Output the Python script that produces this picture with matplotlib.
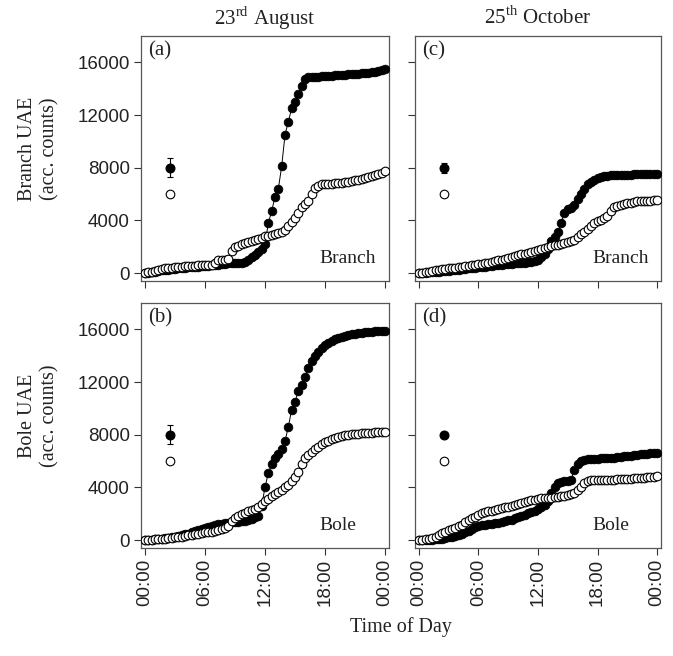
import matplotlib
matplotlib.use("Agg")
import matplotlib.pyplot as plt
import numpy as np

# time grid (hours), 20-minute steps
hours = [i / 3 for i in range(73)]

# (a) Branch, 23rd August
a_filled = [0, 40, 80, 120, 160, 200, 240, 270, 300, 330, 360, 390,
            420, 440, 460, 480, 500, 520, 540, 560, 580, 600, 640, 680,
            710, 740, 760, 770, 780, 790, 820, 980, 1200, 1400, 1620, 1850,
            2200, 3800, 4700, 5800, 6400, 8100, 10500, 11500, 12500, 13000, 13600, 14200,
            14750, 14850, 14880, 14900, 14920, 14940, 14960, 14980, 15000, 15010, 15020, 15040,
            15060, 15080, 15100, 15120, 15140, 15160, 15180, 15200, 15240, 15290, 15350, 15420,
            15500]
a_open = [0, 60, 120, 180, 240, 300, 350, 390, 420, 450, 480, 500,
          520, 540, 555, 570, 585, 600, 610, 620, 630, 800, 1000, 1020,
          1030, 1040, 1700, 1950, 2080, 2180, 2280, 2380, 2470, 2550, 2620, 2700,
          2780, 2850, 2920, 2980, 3020, 3100, 3300, 3550, 3850, 4200, 4600, 5000,
          5250, 5500, 6000, 6450, 6650, 6740, 6760, 6780, 6800, 6820, 6840, 6870,
          6900, 6940, 6980, 7030, 7080, 7150, 7220, 7300, 7380, 7450, 7530, 7620,
          7720]

# (b) Bole, 23rd August
b_filled = [0, 20, 40, 60, 80, 100, 130, 170, 210, 260, 310, 370,
            430, 500, 580, 660, 760, 880, 950, 1020, 1080, 1140, 1200, 1250,
            1300, 1330, 1350, 1370, 1390, 1420, 1460, 1520, 1600, 1720, 1800, 2600,
            4000, 5100, 5800, 6200, 6500, 6950, 7500, 8600, 9900, 10500, 11300, 11800,
            12400, 13100, 13600, 14000, 14300, 14600, 14800, 15000, 15150, 15280, 15380, 15450,
            15520, 15580, 15630, 15670, 15710, 15740, 15770, 15800, 15830, 15850, 15870, 15890,
            15910]
b_open = [0, 15, 30, 50, 70, 90, 110, 140, 170, 200, 230, 270,
          310, 350, 400, 450, 500, 550, 590, 620, 650, 700, 760, 830,
          920, 1100, 1450, 1700, 1850, 1980, 2080, 2180, 2280, 2380, 2480, 2750,
          3000, 3150, 3330, 3480, 3620, 3800, 4000, 4200, 4450, 4800, 5200, 5800,
          6200, 6450, 6700, 6900, 7100, 7300, 7420, 7550, 7680, 7780, 7860, 7920,
          7970, 8010, 8040, 8070, 8090, 8110, 8130, 8150, 8160, 8180, 8190, 8200,
          8210]

# (c) Branch, 25th October
c_filled = [0, 15, 30, 50, 70, 90, 110, 130, 150, 170, 200, 230,
            260, 290, 320, 350, 380, 410, 440, 470, 500, 530, 560, 590,
            620, 650, 680, 700, 720, 740, 760, 780, 800, 820, 850, 900,
            1000, 1200, 1450, 1800, 2400, 2750, 3100, 3800, 4600, 4850, 4950, 5200,
            5600, 6000, 6400, 6750, 6950, 7100, 7250, 7320, 7360, 7390, 7410, 7430,
            7440, 7450, 7460, 7470, 7480, 7490, 7500, 7505, 7510, 7515, 7520, 7525,
            7530]
c_open = [0, 40, 80, 120, 160, 200, 260, 300, 330, 360, 390, 420,
          450, 480, 510, 550, 590, 630, 670, 710, 750, 800, 850, 900,
          960, 1020, 1080, 1150, 1220, 1290, 1360, 1420, 1480, 1540, 1600, 1680,
          1760, 1850, 1930, 2000, 2050, 2100, 2150, 2200, 2260, 2330, 2420, 2550,
          2750, 2950, 3150, 3380, 3600, 3800, 3950, 4050, 4150, 4350, 4700, 5000,
          5100, 5180, 5250, 5300, 5350, 5400, 5450, 5480, 5500, 5510, 5510, 5515,
          5520]

# (d) Bole, 25th October
d_filled = [0, 10, 20, 30, 40, 60, 80, 120, 170, 220, 270, 330,
            400, 480, 580, 720, 880, 1000, 1080, 1140, 1180, 1210, 1250, 1290,
            1330, 1380, 1440, 1500, 1560, 1640, 1720, 1820, 1920, 2020, 2120, 2220,
            2380, 2550, 2700, 3000, 3600, 4000, 4300, 4400, 4450, 4500, 4600, 5300,
            5800, 6000, 6100, 6140, 6160, 6180, 6190, 6200, 6210, 6220, 6240, 6260,
            6290, 6320, 6350, 6380, 6410, 6440, 6470, 6500, 6530, 6560, 6590, 6620,
            6650]
d_open = [0, 20, 50, 80, 140, 250, 400, 530, 650, 760, 860, 950,
          1050, 1180, 1350, 1520, 1660, 1790, 1920, 2020, 2110, 2180, 2240, 2300,
          2360, 2420, 2480, 2540, 2600, 2680, 2760, 2840, 2920, 2980, 3030, 3080,
          3120, 3160, 3190, 3210, 3230, 3250, 3280, 3320, 3370, 3420, 3480, 3580,
          3800, 4050, 4350, 4500, 4540, 4560, 4570, 4575, 4580, 4585, 4590, 4600,
          4610, 4620, 4630, 4640, 4660, 4680, 4700, 4720, 4740, 4770, 4790, 4810,
          4830]

# error-bar key markers (mean, error) per panel
key_x = 2.5
key_filled = {"a": (8000, 720), "b": (8000, 700), "c": (8000, 380), "d": (8000, 150)}
key_open = {"a": (6000, 200), "b": (6000, 250), "c": (6000, 0), "d": (6000, 0)}

col_titles = ["23$^{\\rm rd}$ August", "25$^{\\rm th}$ October"]
xtick_vals = [0, 6, 12, 18, 24]
xtick_labels = ["00:00", "06:00", "12:00", "18:00", "00:00"]
ytick_vals = [0, 4000, 8000, 12000, 16000]

serif = ["Liberation Serif", "DejaVu Serif"]
sans = ["Liberation Sans", "DejaVu Sans"]
plt.rcParams["mathtext.fontset"] = "custom"
plt.rcParams["mathtext.rm"] = "Liberation Serif"

fig = plt.figure(figsize=(6.73, 6.56), dpi=100)
W, H = 673, 656

def pos(l, t, r, b):
    return [l / W, 1 - b / H, (r - l) / W, (b - t) / H]

axes = {
    "a": fig.add_axes(pos(141, 36, 389, 281)),
    "c": fig.add_axes(pos(415, 36, 661, 281)),
    "b": fig.add_axes(pos(141, 303, 389, 548)),
    "d": fig.add_axes(pos(415, 303, 661, 548)),
}
data = {"a": (a_filled, a_open), "b": (b_filled, b_open),
        "c": (c_filled, c_open), "d": (d_filled, d_open)}
names = {"a": "Branch", "c": "Branch", "b": "Bole", "d": "Bole"}

for key, ax in axes.items():
    filled, opened = data[key]
    ax.plot(hours, filled, "-o", color="black", lw=0.7, ms=6.2,
            mfc="black", mec="black", mew=0.6, zorder=3)
    ax.plot(hours, opened, "-o", color="black", lw=0.7, ms=6.2,
            mfc="white", mec="black", mew=0.8, zorder=4)
    fm, fe = key_filled[key]
    om, oe = key_open[key]
    ax.errorbar([key_x], [fm], yerr=[fe], fmt="o", color="black", ms=6.2,
                mfc="black", mec="black", capsize=2.5, elinewidth=0.8, capthick=0.8, zorder=5)
    ax.errorbar([key_x], [om], yerr=[oe] if oe else None, fmt="o", color="black", ms=6.2,
                mfc="white", mec="black", mew=0.8, capsize=2.5, elinewidth=0.8, capthick=0.8, zorder=5)
    ax.set_xlim(-0.4, 24.4)
    ax.set_ylim(-600, 18000)
    ax.set_xticks(xtick_vals)
    ax.set_yticks(ytick_vals)
    ax.tick_params(direction="out", length=5, width=0.8, color="#333333",
                   labelsize=13.5, pad=3, top=False, right=False)
    for sp in ax.spines.values():
        sp.set_color("#555555")
        sp.set_linewidth(0.9)
    ax.text(0.03, 0.94, "(" + key + ")", transform=ax.transAxes, ha="left", va="center",
            fontsize=15, family=serif, color="#222222")
    ax.text(0.72, 0.09, names[key], transform=ax.transAxes, ha="left", va="center",
            fontsize=14, family=serif, color="#222222")
    if key in ("a", "b"):
        ax.set_yticklabels([str(v) for v in ytick_vals], family=sans, color="#222222")
    else:
        ax.set_yticklabels([])
    if key in ("b", "d"):
        ax.set_xticklabels(xtick_labels, rotation=90, family=sans, color="#222222")
    else:
        ax.set_xticklabels([])

fig.text(265 / W, 1 - 18 / H, col_titles[0], ha="center", va="center",
         fontsize=15, family=serif, color="#222222")
fig.text(538 / W, 1 - 18 / H, col_titles[1], ha="center", va="center",
         fontsize=15, family=serif, color="#222222")
fig.text(27 / W, 1 - 149 / H, "Branch UAE", rotation=90, ha="center", va="center",
         fontsize=14.5, family=serif, color="#222222")
fig.text(50 / W, 1 - 149 / H, "(acc. counts)", rotation=90, ha="center", va="center",
         fontsize=14.5, family=serif, color="#222222")
fig.text(27 / W, 1 - 416 / H, "Bole UAE", rotation=90, ha="center", va="center",
         fontsize=14.5, family=serif, color="#222222")
fig.text(50 / W, 1 - 416 / H, "(acc. counts)", rotation=90, ha="center", va="center",
         fontsize=14.5, family=serif, color="#222222")
fig.text(401 / W, 1 - 627 / H, "Time of Day", ha="center", va="center",
         fontsize=14.5, family=serif, color="#222222")

fig.savefig("out.png", dpi=100)
